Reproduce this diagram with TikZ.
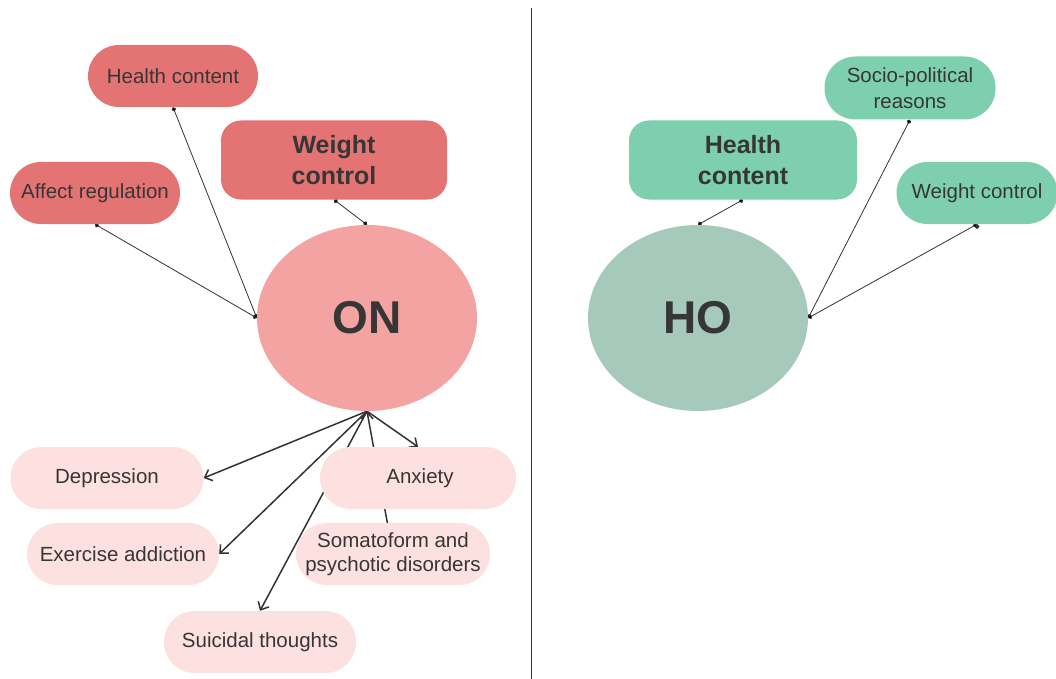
\documentclass[tikz,border=0pt]{standalone}
\usepackage{fontspec}
\setmainfont{Liberation Sans}
\usepackage{tikz}
\usetikzlibrary{arrows,arrows.meta,shapes.geometric,backgrounds}

\definecolor{boxred}{HTML}{E47474}
\definecolor{onred}{HTML}{F4A3A3}
\definecolor{boxpink}{HTML}{FDE0E0}
\definecolor{boxgreen}{HTML}{7ECFB0}
\definecolor{hogreen}{HTML}{A5CABB}
\definecolor{txtgray}{HTML}{363636}
\definecolor{linegray}{HTML}{333333}

\begin{document}
\begin{tikzpicture}[x=1pt,y=-1pt,>={Straight Barb[length=6.5pt,width=12pt]},
  dotline/.style={{Circle[length=4.5pt]}-{Circle[length=4.5pt]},draw=linegray,line width=0.8pt},
  arrowline/.style={->,draw=linegray,line width=1.5pt},
  pill/.style={rectangle,rounded corners=31pt,minimum height=62pt,inner sep=0pt,
    text=txtgray,align=center,font=\fontsize{20.5}{24}\selectfont},
  big box/.style={rectangle,rounded corners=20pt,minimum height=79pt,inner sep=0pt,
    text=txtgray,align=center,font=\fontsize{25}{31}\selectfont\bfseries},
  main node/.style={ellipse,minimum width=220pt,minimum height=186pt,inner sep=0pt,
    text=txtgray,font=\fontsize{46}{50}\selectfont\bfseries}]
  \useasboundingbox (0,0) rectangle (1056,679);

  % divider
  \coordinate (divtop) at (531,8);
  \coordinate (divbot) at (531,679);
  \draw[linegray,line width=0.9pt] (divtop) -- (divbot);

  % ON side
  \node[main node,fill=onred] (on) at (367,318) {ON};
  \node[pill,fill=boxred,minimum width=170pt] (hc) at (173,76) {Health content};
  \node[big box,fill=boxred,minimum width=226pt] (wc) at (334,160) {Weight\\control};
  \node[pill,fill=boxred,minimum width=170pt] (aff) at (95,193) {Affect regulation};

  \node[pill,fill=boxpink,minimum width=193pt] (dep) at (107,478) {Depression};
  \node[pill,fill=boxpink,minimum width=196pt] (anx) at (418,478) {\hspace*{4pt}Anxiety};
  \node[pill,fill=boxpink,minimum width=192pt] (ex) at (123,554) {Exercise addiction};
  \node[pill,fill=boxpink,minimum width=194pt] (som) at (393,554) {Somatoform and\\psychotic disorders};
  \node[pill,fill=boxpink,minimum width=192pt] (su) at (260,642) {Suicidal thoughts};

  % HO side
  \node[main node,fill=hogreen] (ho) at (698,318) {HO};
  \node[pill,fill=boxgreen,minimum width=171pt,minimum height=63pt,
    font=\fontsize{20.5}{26}\selectfont] (soc) at (910,88) {Socio-political\\reasons};
  \node[big box,fill=boxgreen,minimum width=228pt] (hh) at (743,160) {Health\\content};
  \node[pill,fill=boxgreen,minimum width=161pt] (wcr) at (977,193) {Weight control};

  \begin{pgfonlayer}{background}
  \fill[white] (0,0) rectangle (1056,679);
  \path[dotline]
    (aff.south) edge (on.west)
    (hc.south) edge (on.west)
    (wc.south) edge (on.north)
    (hh.south) edge (ho.north)
    (soc.south) edge (ho.east)
    (wcr.south) edge (ho.east);
  \path[arrowline]
    (on.south) edge (dep.east)
    (on.south) edge (ex.east)
    (on.south) edge (su.north)
    (on.south) edge (anx.north)
    (on.south) edge (som.center);
  \end{pgfonlayer}
\end{tikzpicture}
\end{document}
